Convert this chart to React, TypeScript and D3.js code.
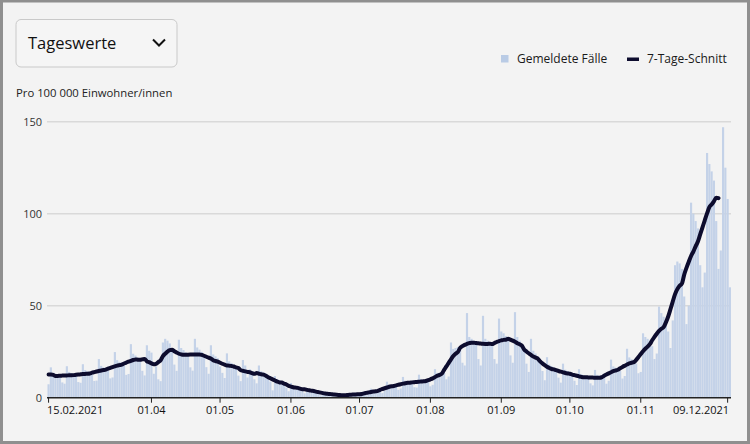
import React from "react";
import * as d3 from "d3";

// Daily reported cases per 100 000 inhabitants, starting 15.02.2021 (Monday)
const START_DATE = "2021-02-15";
const cases: number[] = [
  7.3, 16.5, 13.6, 13.0, 12.4, 11.6, 8.3,
  7.6, 17.1, 14.0, 13.4, 12.8, 12.0, 8.5,
  8.1, 18.2, 15.0, 14.3, 13.7, 12.7, 9.1,
  9.3, 21.0, 17.3, 16.5, 15.8, 14.7, 10.5,
  11.0, 24.8, 20.4, 19.5, 18.6, 17.3, 12.4,
  12.9, 29.1, 23.9, 22.9, 21.8, 20.4, 14.6,
  12.1, 28.5, 25.5, 24.5, 13.0, 17.0, 10.0,
  9.0, 30.0, 32.0, 31.0, 29.5, 25.5, 18.0,
  14.6, 31.5, 27.0, 25.9, 24.7, 23.0, 16.5,
  14.7, 32.0, 27.3, 26.1, 24.9, 23.2, 16.6,
  13.0, 28.5, 23.5, 22.5, 21.5, 17.0, 13.5,
  10.7, 24.1, 19.8, 18.9, 18.1, 16.9, 12.0,
  9.0, 20.5, 17.5, 11.0, 15.5, 14.5, 10.0,
  7.8, 17.5, 14.4, 13.8, 13.1, 12.3, 8.8,
  4.0, 11.8, 10.2, 9.6, 9.0, 8.0, 5.5,
  3.5, 8.0, 6.6, 4.5, 6.2, 5.6, 4.0,
  2.4, 5.3, 4.4, 4.2, 4.0, 3.7, 2.7,
  1.3, 2.9, 2.4, 2.3, 2.2, 2.1, 1.5,
  0.8, 1.8, 1.5, 1.4, 1.4, 1.3, 0.9,
  1.2, 2.7, 2.2, 2.1, 2.0, 1.9, 1.3,
  2.2, 4.9, 4.0, 3.9, 3.7, 3.4, 2.5,
  3.8, 8.7, 7.1, 6.8, 6.5, 6.1, 4.3,
  5.0, 11.3, 9.3, 8.9, 8.5, 7.9, 5.7,
  5.5, 12.5, 10.2, 9.8, 9.3, 8.7, 6.2,
  7.0, 15.5, 13.5, 13.5, 14.0, 13.5, 10.0,
  11.5, 30.0, 26.5, 27.0, 27.5, 26.0, 19.0,
  17.5, 46.0, 33.0, 32.0, 31.0, 29.0, 21.0,
  17.5, 44.5, 32.0, 31.0, 30.0, 28.5, 21.0,
  18.5, 43.0, 36.0, 35.0, 33.5, 31.0, 23.0,
  19.0, 46.5, 33.0, 31.0, 29.0, 26.0, 18.5,
  14.0, 32.0, 25.5, 24.0, 22.5, 20.0, 14.5,
  9.5, 22.0, 18.0, 17.2, 16.4, 15.3, 10.9,
  8.2, 18.5, 15.2, 14.5, 13.9, 12.9, 9.2,
  6.9, 15.5, 12.8, 12.2, 11.7, 10.9, 7.8,
  6.7, 15.1, 12.4, 11.9, 11.3, 10.6, 7.6,
  9.2, 20.7, 17.0, 16.3, 15.5, 14.5, 10.4,
  11.8, 26.6, 21.9, 20.9, 20.0, 18.6, 13.3,
  14.0, 35.0, 33.0, 32.0, 31.0, 28.0, 21.0,
  24.0, 49.5, 46.0, 44.0, 42.0, 36.0, 27.0,
  42.0, 72.0, 74.0, 73.0, 70.0, 55.0, 40.0,
  50.0, 106.0, 100.0, 96.0, 92.0, 72.0, 60.0,
  68.0, 133.0, 127.0, 123.0, 118.0, 96.0, 70.0,
  80.0, 147.0, 125.0, 108.0, 60.0,
];

const tickDates = [
  "2021-02-15", "2021-04-01", "2021-05-01", "2021-06-01", "2021-07-01",
  "2021-08-01", "2021-09-01", "2021-10-01", "2021-11-01", "2021-12-09",
];
const tickLabels = [
  "15.02.2021", "01.04", "01.05", "01.06", "01.07",
  "01.08", "01.09", "01.10", "01.11", "09.12.2021",
];
const yTicks = [0, 50, 100, 150];
const legendLabels = ["Gemeldete Fälle", "7-Tage-Schnitt"];
const dropdownLabel = "Tageswerte";
const unitLabel = "Pro 100 000 Einwohner/innen";

const W = 750;
const H = 444;
const FONT = "'Open Sans', 'Noto Sans', sans-serif";
const BAR = "#c4d2e8";
const LINE = "#0d0c2e";

export default function App() {
  const parse = d3.timeParse("%Y-%m-%d");
  const start = parse(START_DATE) as Date;
  const n = cases.length;
  const idx = d3.range(n);

  const x = d3.scaleBand<number>().domain(idx).range([47.5, 731]).paddingInner(0.06);
  const xc = (i: number) => (x(i) as number) + x.bandwidth() / 2;
  const y = d3.scaleLinear().domain([0, 150]).range([397.7, 121.7]);

  // centered 7-day mean (last, incomplete days left out)
  const avgEnd = n - 6;
  const avg = d3.range(avgEnd + 1).map((i) => ({
    i,
    v: d3.mean(cases.slice(Math.max(0, i - 3), Math.min(n, i + 4))) as number,
  }));
  const linePath = d3
    .line<{ i: number; v: number }>()
    .x((d) => xc(d.i))
    .y((d) => y(d.v))
    .curve(d3.curveMonotoneX)(avg) as string;

  const ticks = tickDates.map((s, k) => ({
    i: d3.timeDay.count(start, parse(s) as Date),
    label: tickLabels[k],
    anchor: k === 0 ? "start" : k === tickDates.length - 1 ? "end" : "middle",
  }));

  return (
    <div style={{ position: "absolute", left: 0, top: 0, width: W, height: H }}>
      <svg width={W} height={H} style={{ display: "block" }} fontFamily={FONT}>
        <rect x={1.5} y={1} width={W - 3} height={H - 2.5} fill="#f3f3f3" stroke="#8f8f8f" strokeWidth={3} />

        {/* dropdown */}
        <rect x={16} y={19.5} width={161} height={47.5} rx={5} fill="#f5f5f5" stroke="#c9c9c9" strokeWidth={1} />
        <text x={28} y={49} fontSize={16.5} fill="#111">{dropdownLabel}</text>
        <path d="M153,39.5 L159,45.5 L165,39.5" fill="none" stroke="#111" strokeWidth={2} />

        <text x={16} y={97} fontSize={11.3} fill="#222">{unitLabel}</text>

        {/* legend */}
        <rect x={501} y={55} width={7.5} height={7.5} fill="#b9cbe5" />
        <text x={517} y={62.5} fontSize={12} fill="#1a1a1a">{legendLabels[0]}</text>
        <rect x={627} y={57.5} width={12} height={3.5} fill={LINE} />
        <text x={647} y={62.5} fontSize={12} fill="#1a1a1a">{legendLabels[1]}</text>

        {/* grid + y labels */}
        {yTicks.map((t) => (
          <g key={t}>
            {t > 0 && (
              <line x1={47} x2={731} y1={y(t)} y2={y(t)} stroke="#d9d9d9" strokeWidth={1.5} />
            )}
            <text x={42} y={y(t) + 4} fontSize={11} fill="#333" textAnchor="end">
              {t}
            </text>
          </g>
        ))}

        {/* bars */}
        {cases.map((v, i) => (
          <rect key={i} x={x(i)} y={y(v)} width={x.bandwidth()} height={y(0) - y(v)} fill={BAR} />
        ))}

        {/* 7-day average */}
        <path d={linePath} fill="none" stroke={LINE} strokeWidth={4} strokeLinejoin="round" strokeLinecap="round" />

        {/* x axis */}
        <line x1={47} x2={731} y1={y(0)} y2={y(0)} stroke="#222" strokeWidth={1.5} />
        {ticks.map((t) => (
          <g key={t.label} transform={`translate(${xc(t.i)},0)`}>
            <line y1={y(0)} y2={y(0) + 5} stroke="#222" strokeWidth={1} />
            <text
              x={t.anchor === "start" ? -1.5 : t.anchor === "end" ? 1.5 : 0}
              y={y(0) + 16}
              fontSize={11}
              fill="#111"
              textAnchor={t.anchor}
            >
              {t.label}
            </text>
          </g>
        ))}
      </svg>
    </div>
  );
}
